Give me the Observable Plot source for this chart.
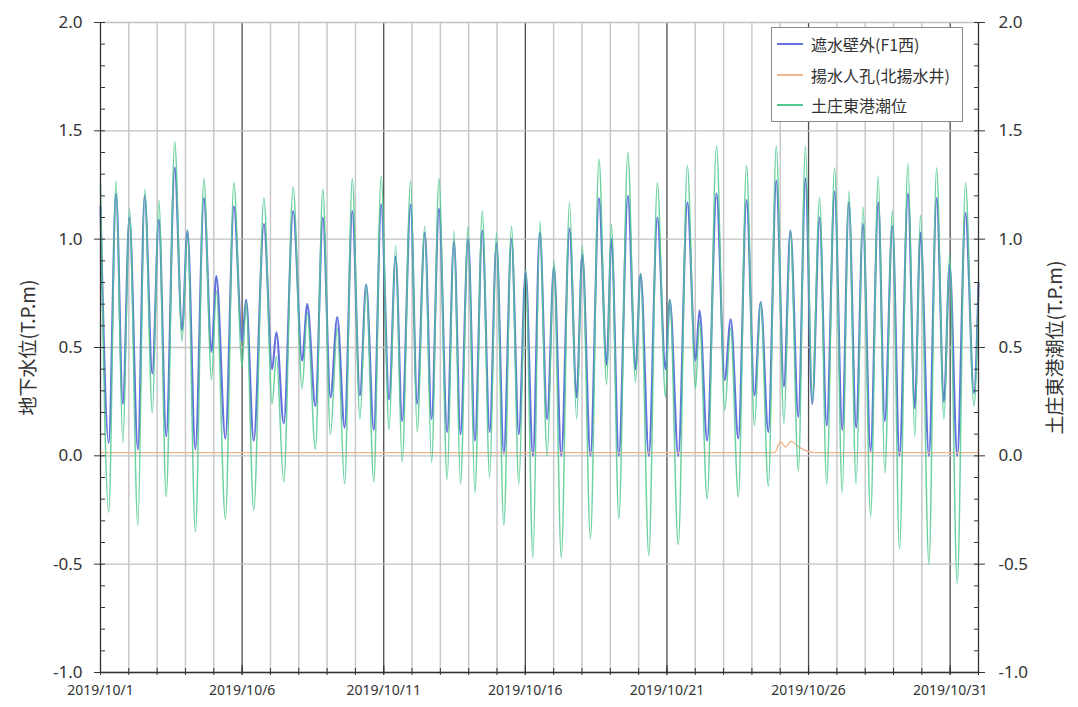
<!DOCTYPE html>
<html>
<head>
<meta charset="utf-8">
<script src="https://cdn.jsdelivr.net/npm/d3@7"></script>
<script src="https://cdn.jsdelivr.net/npm/@observablehq/plot@0.6"></script>
<style>
  html, body { margin: 0; padding: 0; background: #ffffff; }
  #wrap { position: relative; width: 1078px; height: 707px; font-family: "Noto Sans", "Noto Sans CJK JP", sans-serif; }
  #legend { position: absolute; left: 771px; top: 27px; width: 192px; height: 95px; border: 1px solid #8c8c8c; background: #fff; box-sizing: border-box; font-family: "Noto Sans CJK JP", sans-serif; font-size: 16px; color: #333; }
  .row { position: absolute; left: 0; height: 20px; display: flex; align-items: center; white-space: nowrap; }
  .sw { display: inline-block; width: 26px; height: 0; border-top: 2px solid; margin-left: 5px; margin-right: 8px; }
</style>
</head>
<body>
<div id="wrap">
  <div id="chart"></div>
  <div id="legend"></div>
</div>
<script>
// ---- data ----
// time of each high / low water, in days after 2019/10/1 00:00
const extremaDay = [0, 0.29, 0.55, 0.79, 1.02, 1.32, 1.56, 1.83, 2.06, 2.32, 2.62, 2.88, 3.07, 3.35, 3.65, 3.92, 4.09, 4.41, 4.71, 5.00,
  5.14, 5.41, 5.77, 6.06, 6.21, 6.47, 6.80, 7.12, 7.30, 7.59, 7.85, 8.12, 8.36, 8.62, 8.89, 9.16, 9.38, 9.65, 9.91, 10.19,
  10.42, 10.65, 10.95, 11.18, 11.45, 11.69, 11.95, 12.24, 12.48, 12.71, 12.98, 13.22, 13.48, 13.74, 13.98, 14.24, 14.51, 14.77, 15.01, 15.27,
  15.51, 15.77, 16.01, 16.27, 16.56, 16.81, 17.01, 17.30, 17.60, 17.87, 18.04, 18.30, 18.62, 18.89, 19.07, 19.36, 19.66, 19.95, 20.10, 20.40,
  20.72, 21.01, 21.15, 21.42, 21.75, 22.04, 22.25, 22.52, 22.81, 23.09, 23.31, 23.58, 23.86, 24.13, 24.36, 24.64, 24.89, 25.13, 25.39, 25.64,
  25.92, 26.19, 26.42, 26.68, 26.92, 27.19, 27.46, 27.69, 27.96, 28.21, 28.51, 28.75, 28.95, 29.25, 29.52, 29.78, 29.98, 30.25, 30.54, 30.84, 31.0];
// 土庄東港潮位 (tide level, T.P.m)
const tideLevel = [1.25, -0.26, 1.27, 0.06, 1.14, -0.32, 1.23, 0.20, 1.18, -0.19, 1.45, 0.53, 1.04, -0.35, 1.28, 0.35, 0.76, -0.29, 1.26, 0.41,
  0.71, -0.25, 1.19, 0.24, 0.46, -0.12, 1.24, 0.31, 0.66, 0.03, 1.23, 0.10, 0.59, -0.13, 1.28, 0.17, 0.79, -0.12, 1.29, 0.12,
  0.97, -0.03, 1.27, 0.11, 1.06, -0.03, 1.28, -0.11, 1.04, -0.13, 1.06, -0.17, 1.13, -0.10, 1.03, -0.32, 1.06, -0.13, 0.86, -0.47,
  1.08, 0.00, 0.90, -0.47, 1.17, 0.17, 0.97, -0.38, 1.37, 0.33, 1.07, -0.29, 1.40, 0.34, 0.84, -0.46, 1.26, 0.27, 0.72, -0.41,
  1.34, 0.31, 0.62, -0.20, 1.43, 0.21, 0.59, -0.19, 1.34, 0.14, 0.71, -0.14, 1.43, 0.15, 1.04, -0.07, 1.43, 0.25, 1.19, -0.13,
  1.33, -0.17, 1.22, -0.13, 1.15, -0.28, 1.29, -0.08, 1.13, -0.43, 1.35, 0.09, 1.11, -0.50, 1.33, 0.17, 0.93, -0.59, 1.26, 0.23, 0.75];
// 遮水壁外(F1西) (groundwater level outside the cut-off wall, T.P.m)
const wallLevel = [1.15, 0.06, 1.21, 0.24, 1.10, 0.03, 1.20, 0.38, 1.09, 0.09, 1.33, 0.58, 1.04, 0.03, 1.19, 0.48, 0.83, 0.08, 1.15, 0.53,
  0.72, 0.07, 1.07, 0.40, 0.57, 0.15, 1.13, 0.44, 0.70, 0.23, 1.10, 0.27, 0.64, 0.13, 1.13, 0.28, 0.79, 0.12, 1.16, 0.26,
  0.92, 0.16, 1.16, 0.24, 1.03, 0.17, 1.14, 0.11, 0.99, 0.10, 1.00, 0.07, 1.04, 0.11, 0.98, 0.01, 1.00, 0.10, 0.85, 0.00,
  1.03, 0.17, 0.87, 0.00, 1.05, 0.27, 0.93, 0.00, 1.19, 0.42, 1.00, 0.00, 1.20, 0.40, 0.84, 0.00, 1.10, 0.40, 0.72, 0.00,
  1.17, 0.44, 0.67, 0.07, 1.21, 0.35, 0.63, 0.08, 1.18, 0.28, 0.71, 0.11, 1.27, 0.32, 1.04, 0.18, 1.28, 0.24, 1.10, 0.14,
  1.22, 0.12, 1.17, 0.13, 1.07, 0.02, 1.17, 0.16, 1.06, 0.00, 1.21, 0.22, 1.03, 0.00, 1.19, 0.25, 0.88, 0.00, 1.12, 0.29, 0.80];
// 揚水人孔(北揚水井) (pumping manhole level, T.P.m)
const pumpDay = [0, 23.80, 24.01, 24.19, 24.39, 24.61, 24.99, 25.18, 31.0];
const pumpLevel = [0.015, 0.015, 0.065, 0.04, 0.068, 0.045, 0.02, 0.015, 0.015];

const seriesNames = ["遮水壁外(F1西)", "揚水人孔(北揚水井)", "土庄東港潮位"];
const seriesColors = ["#6470de", "#f3b48a", "#52c98f"];
const yTicks = [-1, -0.5, 0, 0.5, 1, 1.5, 2];
const yMinorTicks = d3.range(-10, 21).map(v => v / 10);
const dateLabelDays = [0, 5, 10, 15, 20, 25, 30];
const leftTitle = "地下水位(T.P.m)";
const rightTitle = "土庄東港潮位(T.P.m)";

// ---- build tables ----
const base = Date.UTC(2019, 9, 1);
const toDate = d => new Date(base + d * 864e5);
const tide = extremaDay.map((d, i) => ({t: toDate(d), v: tideLevel[i]}));
const wall = extremaDay.map((d, i) => ({t: toDate(d), v: wallLevel[i]}));
const pump = pumpDay.map((d, i) => ({t: toDate(d), v: pumpLevel[i]}));
const allDays = d3.range(0, 32).map(toDate);
const minorGridDays = d3.range(1, 31).filter(d => d % 5 !== 0).map(toDate);
const majorGridDays = [5, 10, 15, 20, 25, 30].map(toDate);
const labelDates = dateLabelDays.map(toDate);

const chart = Plot.plot({
  width: 1078,
  height: 707,
  marginLeft: 100,
  marginRight: 100,
  marginTop: 22,
  marginBottom: 35,
  style: {fontFamily: '"Noto Sans", "Noto Sans CJK JP", sans-serif', color: "#333", background: "transparent"},
  x: {type: "utc", domain: [toDate(0), toDate(31)]},
  y: {domain: [-1, 2]},
  marks: [
    Plot.ruleX(minorGridDays, {stroke: "#c9c9c9", strokeWidth: 1.5}),
    Plot.ruleX(majorGridDays, {stroke: "#4d4d4d", strokeWidth: 1.3}),
    Plot.ruleY(yTicks, {stroke: "#c2c2c2", strokeWidth: 1.3}),
    Plot.line(wall, {x: "t", y: "v", stroke: seriesColors[0], strokeWidth: 2.1, curve: "monotone-x"}),
    Plot.line(pump, {x: "t", y: "v", stroke: seriesColors[1], strokeWidth: 1.4, curve: "monotone-x"}),
    Plot.line(tide, {x: "t", y: "v", stroke: seriesColors[2], strokeWidth: 1.5, strokeOpacity: 0.85, curve: "monotone-x"}),
    Plot.ruleX([toDate(0), toDate(31)], {stroke: "#333", strokeWidth: 1.3}),
    Plot.ruleY([-1], {stroke: "#333", strokeWidth: 1.3}),
    // left axis
    Plot.axisY(yTicks, {anchor: "left", tickSize: 6, tickPadding: 12, fontSize: 17, tickFormat: d => d.toFixed(1), label: null}),
    Plot.axisY(yMinorTicks, {anchor: "left", tickSize: 5, dx: 5, fill: "none", label: null}),
    // right axis
    Plot.axisY(yTicks, {anchor: "right", tickSize: 6, tickPadding: 14, fontSize: 17, tickFormat: d => d.toFixed(1), label: null}),
    Plot.axisY(yMinorTicks, {anchor: "right", tickSize: 5, dx: -5, fill: "none", label: null}),
    // bottom axis
    Plot.axisX(allDays, {anchor: "bottom", tickSize: 7, dy: -4, fill: "none", label: null}),
    Plot.axisX(labelDates, {anchor: "bottom", tickSize: 10, dy: -7, fill: "none", label: null}),
    Plot.axisX(labelDates, {anchor: "bottom", tickSize: 0, tickPadding: 13, fontSize: 14, tickFormat: d3.utcFormat("%Y/%-m/%-d"), label: null}),
    // axis titles
    Plot.text([leftTitle], {frameAnchor: "left", textAnchor: "middle", dx: -72, dy: 0, rotate: -90, fontSize: 19, fill: "#333", fontFamily: '"Noto Sans CJK JP", sans-serif'}),
    Plot.text([rightTitle], {frameAnchor: "right", textAnchor: "middle", dx: 77, dy: 0, rotate: -90, fontSize: 19, fill: "#333", fontFamily: '"Noto Sans CJK JP", sans-serif'})
  ]
});
document.getElementById("chart").appendChild(chart);

const legend = document.getElementById("legend");
const rowTops = [6, 37, 67];
seriesNames.forEach((name, i) => {
  const row = document.createElement("div");
  row.className = "row";
  row.style.top = rowTops[i] + "px";
  const sw = document.createElement("span");
  sw.className = "sw";
  sw.style.borderTopColor = seriesColors[i];
  const label = document.createElement("span");
  label.textContent = name;
  row.appendChild(sw);
  row.appendChild(label);
  legend.appendChild(row);
});
</script>
</body>
</html>
